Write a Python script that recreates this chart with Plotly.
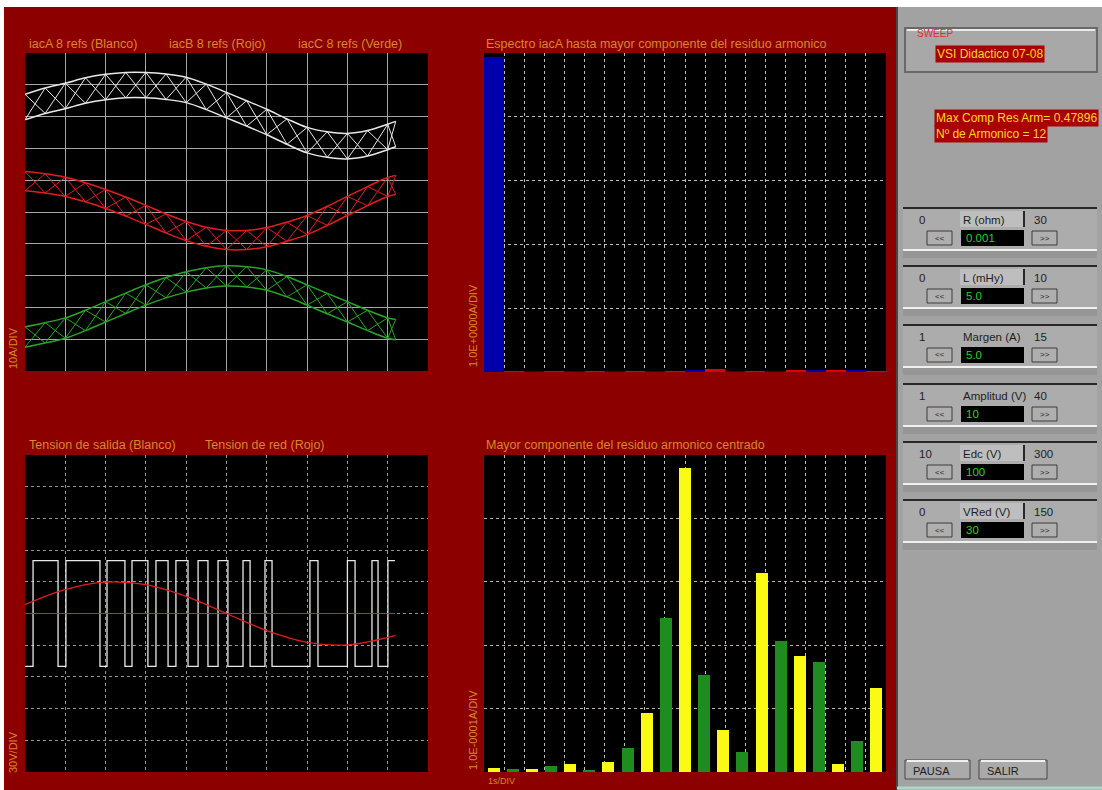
import plotly.graph_objects as go

W, H = 1102, 790

# ---------------- data ----------------
# Phase-current hysteresis bands (divisions, 10 A/div), sampled every half division
T_DIV = [0, 0.5, 1, 1.5, 2, 2.5, 3, 3.5, 4, 4.5, 5, 5.5, 6, 6.5, 7, 7.5, 8, 8.5, 9, 9.2]
IAC_A = [3.30, 3.50, 3.65, 3.82, 3.93, 3.99, 3.99, 3.94, 3.84, 3.62,
         3.36, 3.10, 2.83, 2.53, 2.26, 2.12, 2.07, 2.16, 2.36, 2.45]
IAC_B = [0.97, 0.90, 0.79, 0.62, 0.41, 0.17, -0.09, -0.36, -0.60, -0.78,
         -0.88, -0.88, -0.79, -0.62, -0.41, -0.12, 0.19, 0.50, 0.79, 0.85]
IAC_C = [-3.93, -3.80, -3.65, -3.41, -3.14, -2.87, -2.61, -2.38, -2.20, -2.07,
         -2.01, -2.04, -2.14, -2.35, -2.61, -2.88, -3.14, -3.41, -3.65, -3.70]
BAND_A, BAND_B, BAND_C = 0.40, 0.30, 0.32

# Spectrum of iacA (A): fundamental + residual harmonics
HARM_FUND = 49.3
HARM_N = list(range(2, 23))
HARM_RES = [0.006, 0.005, 0.005, 0.009, 0.013, 0.003, 0.016, 0.038, 0.093, 0.243,
            0.47896, 0.153, 0.066, 0.032, 0.314, 0.207, 0.183, 0.173, 0.013, 0.049, 0.132]
HARM_MAX = 0.47896
HARM_MAX_N = 12

# Output voltage (V) vs time (ms)
VOUT_LEVEL = 50
VOUT_SWITCH_MS = [0.40, 1.64, 2.03, 3.72, 4.07, 4.96, 5.31, 6.10, 6.50, 7.10,
                  7.49, 8.09, 8.59, 9.08, 9.58, 10.07, 10.82, 11.17, 11.91, 12.26,
                  14.14, 14.54, 16.00, 16.38, 17.22, 17.52, 18.01]
VOUT_END_MS = 18.36
VRED_T = [0, 2, 4, 6, 8, 10, 12, 14, 16, 18, 18.36]
VRED = [8.5, 22.7, 29.7, 27.3, 16.2, 0.0, -16.2, -27.3, -29.7, -22.7, -20.6]

# Front-panel controls
CTRL_LABELS = ["R (ohm)", "L (mHy)", "Margen (A)", "Amplitud (V)", "Edc (V)", "VRed (V)"]
CTRL_MIN = ["0", "0", "1", "1", "10", "0"]
CTRL_MAX = ["30", "10", "15", "40", "300", "150"]
CTRL_VAL = ["0.001", "5.0", "5.0", "10", "100", "30"]

# ---------------- styling ----------------
BG_RED = "rgb(140,0,0)"
PANEL = "rgb(162,162,162)"
TXT = "rgb(215,135,45)"
FONT = "Liberation Sans, Arial, sans-serif"
WHITE = "rgb(232,232,232)"
RED = "rgb(225,30,30)"
GREEN = "rgb(40,165,40)"


def X(px):
    return px / W


def Y(py):
    return 1 - py / H


fig = go.Figure()


# ---------- top-left: phase current bands ----------
def band(center, hw, color):
    up = [c + hw for c in center]
    lo = [c - hw for c in center]
    for ys in (up, lo):
        fig.add_trace(go.Scatter(x=T_DIV, y=ys, mode="lines", line=dict(color=color, width=1.5, shape="spline"),
                                 xaxis="x", yaxis="y", hoverinfo="skip", showlegend=False))
    for start in (0, 1):
        zz = [up[i] if (i + start) % 2 == 0 else lo[i] for i in range(len(T_DIV))]
        fig.add_trace(go.Scatter(x=T_DIV, y=zz, mode="lines", line=dict(color=color, width=1),
                                 xaxis="x", yaxis="y", hoverinfo="skip", showlegend=False))


band(IAC_A, BAND_A, WHITE)
band(IAC_B, BAND_B, RED)
band(IAC_C, BAND_C, GREEN)

# ---------- top-right: spectrum ----------
spec_x = [1] + HARM_N[:19]
spec_y = [HARM_FUND] + HARM_RES[:19]
spec_c = ["rgb(0,0,170)" if n % 2 else "rgb(220,0,0)" for n in spec_x]
fig.add_trace(go.Bar(x=spec_x, y=spec_y, marker=dict(color=spec_c, line=dict(width=0)), width=1.0,
                     xaxis="x2", yaxis="y2", hoverinfo="skip", showlegend=False))

# ---------- bottom-left: output and grid voltage ----------
vx, vy = [0.0], [-VOUT_LEVEL]
state = -VOUT_LEVEL
for t in VOUT_SWITCH_MS:
    state = -state
    vx.append(t)
    vy.append(state)
vx.append(VOUT_END_MS)
vy.append(state)
fig.add_trace(go.Scatter(x=vx, y=vy, mode="lines", line=dict(color=WHITE, width=1.3, shape="hv"),
                         xaxis="x3", yaxis="y3", hoverinfo="skip", showlegend=False))
fig.add_trace(go.Scatter(x=[0, VOUT_END_MS], y=[0, 0], mode="lines", line=dict(color="rgb(30,130,30)", width=1),
                         xaxis="x3", yaxis="y3", hoverinfo="skip", showlegend=False))
fig.add_trace(go.Scatter(x=VRED_T, y=VRED, mode="lines", line=dict(color=RED, width=1.3, shape="spline"),
                         xaxis="x3", yaxis="y3", hoverinfo="skip", showlegend=False))

# ---------- bottom-right: centred residual harmonics ----------
res_c = ["rgb(250,250,20)" if n % 2 == 0 else "rgb(30,140,30)" for n in HARM_N]
fig.add_trace(go.Bar(x=HARM_N, y=HARM_RES, marker=dict(color=res_c, line=dict(width=0)), width=0.63,
                     xaxis="x4", yaxis="y4", hoverinfo="skip", showlegend=False))


def axis(x0, x1, rng, dtick, tick0, color, dash, anchor, horizontal=True):
    dom = [X(x0), X(x1)] if horizontal else [Y(x1), Y(x0)]
    return dict(domain=dom, range=rng, dtick=dtick, tick0=tick0, showgrid=True, gridcolor=color,
                griddash=dash, gridwidth=1, zeroline=False, showticklabels=False, ticks="",
                showline=False, fixedrange=True, anchor=anchor)


GRID = "rgb(165,165,165)"
layout_axes = dict(
    xaxis=axis(25, 428, [0, 10], 1, 0, GRID, "solid", "y"),
    yaxis=axis(53, 371, [-5, 5], 1, -5, GRID, "solid", "x", False),
    xaxis2=axis(484, 886, [0.5, 20.5], 1, 0.5, "rgb(190,190,190)", "dot", "y2"),
    yaxis2=axis(53, 372, [0, 50], 10, 0, "rgb(190,190,190)", "dot", "x2", False),
    xaxis3=axis(25, 428, [0, 20], 2, 0, "rgb(150,150,150)", "dot", "y3"),
    yaxis3=axis(455, 772, [-150, 150], 30, -150, "rgb(150,150,150)", "dot", "x3", False),
    xaxis4=axis(484, 886, [1.5, 22.5], 1.05, 1.5, "rgb(190,190,190)", "dot", "y4"),
    yaxis4=axis(455, 772, [0, 0.5], 0.1, 0, "rgb(200,170,170)", "dot", "x4", False),
)

shapes = []
ann = []


def rect(x0, y0, x1, y1, fill, line=None, lw=1, layer="above"):
    shapes.append(dict(type="rect", xref="paper", yref="paper", x0=X(x0), x1=X(x1), y0=Y(y1), y1=Y(y0),
                       fillcolor=fill, line=dict(color=line if line else fill, width=lw if line else 0),
                       layer=layer))


def hline(x0, x1, y, color, w=1):
    shapes.append(dict(type="line", xref="paper", yref="paper", x0=X(x0), x1=X(x1), y0=Y(y), y1=Y(y),
                       line=dict(color=color, width=w), layer="above"))


def vline(x, y0, y1, color, w=1):
    shapes.append(dict(type="line", xref="paper", yref="paper", x0=X(x), x1=X(x), y0=Y(y0), y1=Y(y1),
                       line=dict(color=color, width=w), layer="above"))


def text(px, py, s, color=TXT, size=12.5, anchor="left", angle=0, bg=None):
    a = dict(x=X(px), y=Y(py), xref="paper", yref="paper", text=s, showarrow=False,
             xanchor=anchor, yanchor="middle", textangle=angle,
             font=dict(family=FONT, size=size, color=color), borderpad=1)
    if bg:
        a["bgcolor"] = bg
    ann.append(a)


# white outer strips and grey instrument panel
rect(0, 0, W, 7, "white", layer="below")
rect(0, 0, 4, H, "white", layer="below")
rect(897, 7, W, H, PANEL, layer="below")
vline(897, 7, H, "rgb(70,70,70)", 2)
hline(897, W, 788, "rgb(170,215,200)", 3)

# chart titles
text(27, 44, "iacA 8 refs (Blanco)")
text(167, 44, "iacB 8 refs (Rojo)")
text(296, 44, "iacC 8 refs (Verde)")
text(484, 44, "Espectro iacA hasta mayor componente del residuo armonico")
text(27, 445, "Tension de salida (Blanco)")
text(203, 445, "Tension de red (Rojo)")
text(484, 445, "Mayor componente del residuo armonico centrado")

# vertical scale labels
text(13, 348, "10A/DIV", angle=-90, anchor="center", size=11)
text(473, 326, "1.0E+0000A/DIV", angle=-90, anchor="center", size=11)
text(13, 752, "30V/DIV", angle=-90, anchor="center", size=11)
text(473, 730, "1.0E-0001A/DIV", angle=-90, anchor="center", size=11)
text(486, 781, "1s/DIV", size=9)

# header box
rect(905, 28, 1097, 72, "rgb(168,168,168)", "rgb(105,105,105)", 2)
hline(907, 1095, 30, "rgb(235,235,235)", 2)
text(915, 33, "SWEEP", color="rgb(230,40,40)", size=10)
text(935, 54, "VSI Didactico 07-08", color="rgb(255,215,40)", size=12, bg="rgb(170,0,0)")
text(934, 118, "Max Comp Res Arm= %.5f" % HARM_MAX, color="rgb(255,215,40)", size=12, bg="rgb(170,0,0)")
text(934, 134, "Nº de Armonico = %d" % HARM_MAX_N, color="rgb(255,215,40)", size=12, bg="rgb(170,0,0)")

# numeric controls
CTRL_TOP = [208, 266, 325, 384, 442, 500]
for i, top in enumerate(CTRL_TOP):
    rect(903, top, 1097, top + 42, "rgb(172,172,172)")
    hline(903, 1097, top, "rgb(40,40,40)", 2)
    hline(903, 1097, top + 42, "rgb(240,240,240)", 2)
    rect(903, top + 43, 1097, top + 50, "rgb(150,150,150)")
    text(917, top + 12, CTRL_MIN[i], color="rgb(30,30,30)", size=11.5)
    if CTRL_LABELS[i] not in ("Margen (A)", "Amplitud (V)"):
        rect(960, top + 3, 1024, top + 19, "rgb(190,190,190)")
        vline(1024, top + 3, top + 19, "rgb(40,40,40)", 2)
    text(961, top + 12, CTRL_LABELS[i], color="rgb(30,30,30)", size=11.5)
    text(1032, top + 12, CTRL_MAX[i], color="rgb(30,30,30)", size=11.5)
    rect(927, top + 23, 952, top + 37, "rgb(175,175,175)", "rgb(60,60,60)", 1)
    text(939.5, top + 30, "<<", color="rgb(30,30,30)", size=8, anchor="center")
    rect(1032, top + 23, 1057, top + 37, "rgb(175,175,175)", "rgb(60,60,60)", 1)
    text(1044.5, top + 30, ">>", color="rgb(30,30,30)", size=8, anchor="center")
    rect(961, top + 22, 1024, top + 38, "black")
    text(964, top + 30, CTRL_VAL[i], color="rgb(40,210,40)", size=11.5)

# buttons
for x0, x1, lab in ((905, 970, "PAUSA"), (979, 1047, "SALIR")):
    rect(x0, 760, x1, 779, "rgb(170,170,170)", "rgb(70,70,70)", 1)
    hline(x0 + 2, x1 - 2, 761, "rgb(240,240,240)", 2)
    text(x0 + 6, 771, lab, color="rgb(30,30,30)", size=11)

fig.update_layout(
    width=W, height=H, margin=dict(l=0, r=0, t=0, b=0),
    paper_bgcolor=BG_RED, plot_bgcolor="black",
    bargap=0, showlegend=False,
    shapes=shapes, annotations=ann,
    **layout_axes,
)

fig.write_html("out.html", config={"displayModeBar": False})
